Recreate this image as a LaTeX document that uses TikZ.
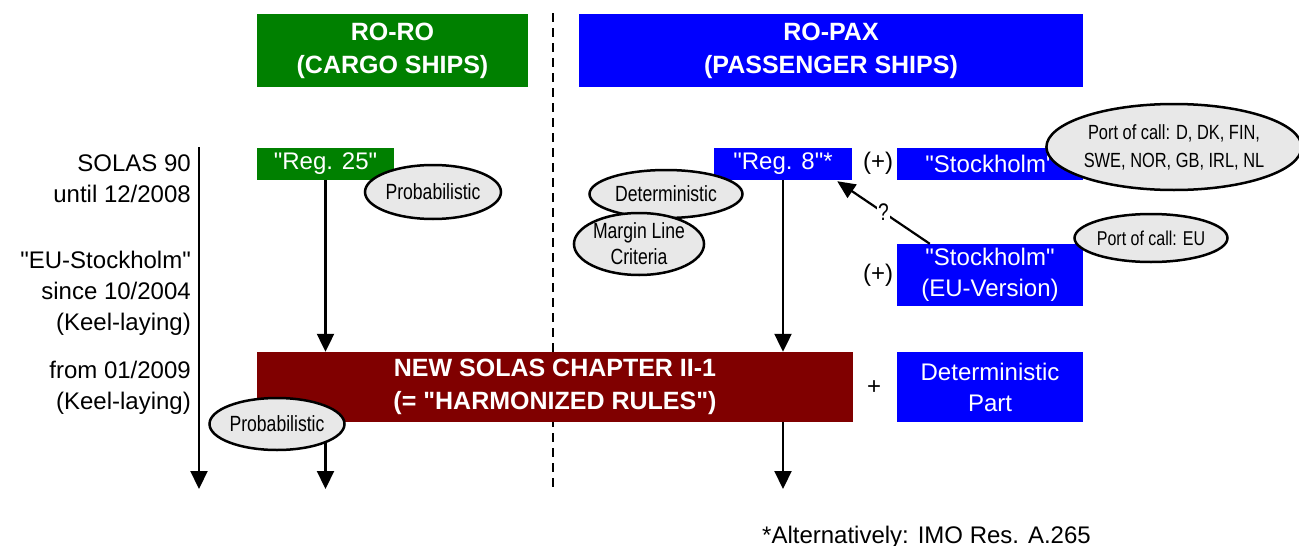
\documentclass[tikz,border=0pt]{standalone}
\usepackage{fontspec}
\setmainfont{Liberation Sans}
\newfontfamily\mainf{Liberation Sans}
\newfontfamily\narrowfont[FakeStretch=0.8]{Liberation Sans}
\usetikzlibrary{arrows.meta,shapes.geometric,calc}
\definecolor{rogreen}{RGB}{0,128,0}
\definecolor{roblue}{RGB}{0,0,255}
\definecolor{rored}{RGB}{128,0,0}
\definecolor{ellgray}{RGB}{232,232,232}
\begin{document}
\begin{tikzpicture}[x=1pt,y=-1pt,
  hdr/.style={inner sep=0, align=center, text=white, font=\mainf\fontsize{25}{33}\selectfont\bfseries},
  colbox/.style={inner sep=0, align=center, text=white, font=\mainf\fontsize{24}{31}\selectfont},
  lbl/.style={inner sep=0, align=right, anchor=east, font=\mainf\fontsize{24}{31}\selectfont},
  note/.style={ellipse, draw=black, line width=2.5pt, fill=ellgray, inner sep=0, align=center, font=\narrowfont\fontsize{22}{26}\selectfont},
  conn/.style={line width=2.2pt},
  arr/.style={conn, -{Triangle[length=18pt,width=17pt]}},
  plain/.style={inner sep=0, font=\mainf\fontsize{24}{31}\selectfont}
]
\useasboundingbox (0,0) rectangle (1299,546);
% dashed separator
\coordinate (dtop) at (553,13);
\coordinate (dbot) at (553,490);
\draw[line width=2pt, dash pattern=on 9pt off 6pt] (dtop) -- (dbot);
% time axis
\coordinate (axtop) at (199,147);
\coordinate (axbot) at (199,489);
\coordinate (bot) at (0,489);
\draw[arr] (axtop) -- (axbot);
% headers
\node[hdr, fill=rogreen, minimum width=271, minimum height=73] (roro) at (392.5,50.5) {RO-RO\\(CARGO SHIPS)};
\node[hdr, fill=roblue, minimum width=504, minimum height=73] (ropax) at (831,50.5) {RO-PAX\\(PASSENGER SHIPS)};
% left labels
\node[lbl] (l1) at (191,178.5) {SOLAS 90\\until 12/2008};
\node[lbl] (l2) at (191,293) {"EU-Stockholm"\\since 10/2004\\(Keel-laying)};
\node[lbl] (l3) at (191,387.5) {from 01/2009\\(Keel-laying)};
% boxes
\node[colbox, fill=rogreen, minimum width=137, minimum height=32] (reg25) at (325.5,164) {"Reg. 25"};
\node[colbox, fill=roblue, minimum width=138, minimum height=32] (reg8) at (783,164) {"Reg. 8"*};
\node[colbox, fill=roblue, minimum width=186, minimum height=32] (stock) at (990,164) {"Stockholm"};
\node[colbox, fill=roblue, minimum width=186, minimum height=62] (seu) at (990,275) {"Stockholm"\\(EU-Version)};
\node[hdr, fill=rored, minimum width=596, minimum height=70] (red) at (555,387) {NEW SOLAS CHAPTER II-1\\(= "HARMONIZED RULES")};
\node[colbox, fill=roblue, minimum width=186, minimum height=70] (detpart) at (990,387) {Deterministic\\Part};
% plus signs
\node[plain] (p1) at (878,163) {(+)};
\node[plain] (p2) at (878,275) {(+)};
\node[plain] (p3) at (874,388) {+};
% connectors
\draw[arr] (reg25.south) -- (reg25.south |- red.north);
\draw[arr] (reg8.south) -- (reg8.south |- red.north);
\draw[arr] (reg25.south |- red.south) -- (reg25.south |- bot);
\draw[arr] (reg8.south |- red.south) -- (reg8.south |- bot);
\draw[conn, -{Triangle[length=18pt,width=16pt]}] ($(seu.north west)+(33,0)$) -- node[fill=white, inner sep=1pt, font=\narrowfont\fontsize{24}{26}\selectfont] (q) {?} ($(reg8.south east)+(-15,1)$);
% footnote
\node[plain, anchor=base west] (fn) at (762,543) {*Alternatively: IMO Res. A.265};
% ellipses
\node[note, minimum width=136, minimum height=54] (prob1) at (433,192) {Probabilistic};
\node[note, minimum width=135, minimum height=52] (prob2) at (277,424) {Probabilistic};
\node[note, minimum width=153, minimum height=48] (det) at (666,194) {Deterministic};
\node[note, minimum width=120, minimum height=62] (margin) at (639,244) {Margin Line\\Criteria};
\node[note, minimum width=233, minimum height=86, font=\narrowfont\fontsize{20.5}{28}\selectfont] (port1) at (1174,147) {Port of call: D, DK, FIN,\\SWE, NOR, GB, IRL, NL};
\node[note, minimum width=124, minimum height=48, font=\narrowfont\fontsize{20}{26}\selectfont] (port2) at (1151,238) {Port of call: EU};
\end{tikzpicture}
\end{document}
